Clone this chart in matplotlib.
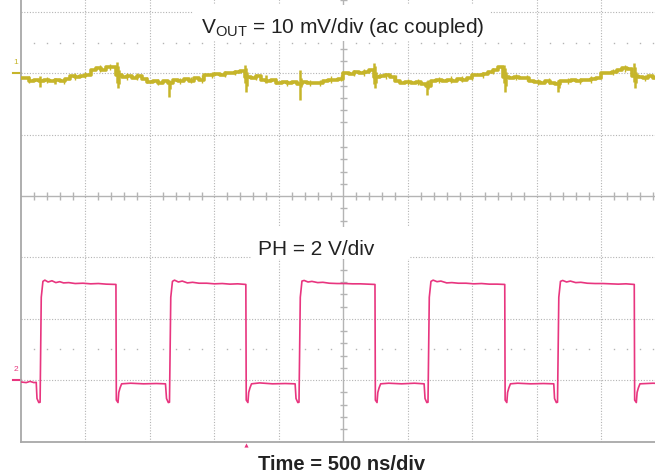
import numpy as np
import matplotlib.pyplot as plt
from matplotlib.patches import Rectangle

plt.rcParams['font.family'] = ['Liberation Sans', 'DejaVu Sans']
plt.rcParams['mathtext.fontset'] = 'custom'
plt.rcParams['mathtext.rm'] = 'Liberation Sans'

# scope settings
NS_PER_DIV = 500
VOUT_MV_PER_DIV = 10
PH_V_PER_DIV = 2
VOUT_POS = 2      # ch1 reference, divisions above centre
PH_POS = -3       # ch2 ground, divisions from centre

YELLOW = '#C6B52A'
PINK = '#E8357F'
GRID = '#B4B4B4'

# Vout, ac coupled [mV], one sample every 40 ns
vout_dt = 40
vout_mv = [-0.7, -0.8, -1.2, -1.1, -1.3, -1.0, -1.3, -1.1, -1.2, -0.9,
           -0.5, -0.6, -0.4, -0.3, 0.5, 0.8, 0.6, 1.1, 1.0, -0.2,
           -0.6, -0.4, -0.7, -0.5, -0.9, -1.4, -1.2, -1.5, -1.3, -1.6,
           -1.1, -1.3, -0.9, -1.2, -0.8, -1.0, -0.2, -0.3, -0.1, -0.3,
           0.1, 0.0, 0.2, 0.4, -0.6, -0.7, -0.5, -1.1, -1.2, -1.0,
           -1.5, -1.4, -1.6, -1.4, -1.7, -1.4, -1.6, -1.5, -1.5, -1.3,
           -1.0, -1.1, -0.9, 0.1, -0.1, 0.3, 0.0, 0.2, 0.5, -0.6,
           -0.4, -0.3, -0.6, -1.3, -1.5, -1.4, -1.6, -1.4, -1.7, -2.0,
           -1.3, -1.1, -1.2, -1.0, -1.2, -0.9, -1.0, -0.8, -0.2, -0.3,
           -0.1, 0.3, 0.5, 1.0, -0.6, -0.7, -0.6, -0.8, -0.7, -1.3,
           -1.4, -1.5, -1.3, -1.5, -1.8, -1.2, -1.3, -1.1, -1.2, -1.0,
           -1.1, -0.9, -0.8, 0.1, 0.0, 0.3, 0.6, 0.9, 0.7, -0.5,
           -0.6, -0.7, -0.5, -0.7, -0.6]

# glitches on Vout at the switching edges: time [ns], min / max [mV]
glitch_t = [147, 264, 744, 752, 760, 1150, 1158, 1736, 1744, 1752, 1900,
            2160, 2168, 2737, 2745, 2753, 3150, 3158, 3745, 3752, 3760,
            4160, 4168, 4752, 4760, 4768]
glitch_lo = [-2.2, -1.8, -1.5, -2.3, -1.8, -3.8, -2.6, -1.5, -3.0, -2.0, -1.6,
             -4.3, -2.2, -1.8, -2.3, -1.6, -3.5, -2.6, -1.6, -3.0, -2.0,
             -3.0, -2.4, -1.4, -2.3, -1.6]
glitch_hi = [-0.4, -0.7, 1.9, 1.2, 0.5, -1.0, -1.2, 1.4, 0.9, 0.2, -0.2,
             0.6, -0.8, 1.75, 1.2, 0.3, -1.2, -1.1, 1.4, 0.9, 0.2,
             -1.0, -1.1, 1.7, 1.0, 0.2]

# small noise hairs on Vout: time [ns], min / max [mV]
hair_t = [60, 200, 330, 420, 500, 610, 690, 820, 900, 980, 1060, 1230, 1320,
          1400, 1480, 1580, 1660, 1820, 1980, 2060, 2240, 2320, 2400, 2480,
          2580, 2660, 2830, 2910, 3000, 3080, 3240, 3330, 3420, 3500, 3580,
          3660, 3840, 3920, 4010, 4090, 4240, 4330, 4420, 4500, 4590, 4680,
          4840, 4920]
hair_lo = [-1.5, -1.6, -1.7, -1.0, -0.8, 0.3, 0.5, -1.0, -1.1, -1.6, -1.9,
           -1.8, -1.6, -1.5, -0.8, -0.6, -0.3, -1.1, -1.7, -2.0, -2.1, -2.0,
           -1.5, -1.3, -0.5, -0.4, -0.9, -1.3, -1.9, -1.9, -1.6, -1.5, -1.4,
           -1.0, -0.7, -0.1, -1.1, -1.3, -1.9, -1.8, -1.8, -1.7, -1.5, -0.9,
           -0.3, 0.3, -1.2, -1.2]
hair_hi = [-0.5, -0.6, -0.8, 0.0, 0.2, 1.3, 1.5, 0.1, 0.0, -0.6, -0.9,
           -0.7, -0.6, -0.3, 0.2, 0.4, 0.6, -0.1, -0.8, -1.0, -1.1, -1.0,
           -0.5, -0.3, 0.5, 0.7, 0.1, -0.3, -0.9, -0.9, -0.6, -0.5, -0.4,
           0.0, 0.3, 0.9, -0.1, -0.2, -0.9, -0.8, -0.8, -0.7, -0.5, 0.2,
           0.7, 1.3, -0.2, -0.2]

# PH node trace vertices: time [ns], volts
ph_t = [0, 40, 70, 100, 118, 124, 138, 148,
        157, 170, 185, 210, 240, 270, 300, 330, 370, 420, 480, 540, 600, 660, 736,
        739, 752, 758, 768, 780, 850, 950, 1050, 1120, 1128, 1142, 1151,
        1161, 1174, 1190, 1220, 1250, 1290, 1330, 1380, 1440, 1500, 1560, 1620, 1680, 1743,
        1746, 1759, 1765, 1775, 1787, 1850, 1950, 2050, 2125, 2132, 2146, 2155,
        2165, 2178, 2195, 2225, 2255, 2300, 2340, 2390, 2450, 2510, 2570, 2630, 2690, 2744,
        2747, 2760, 2766, 2776, 2788, 2850, 2950, 3050, 3125, 3132, 3146, 3155,
        3165, 3178, 3195, 3225, 3255, 3300, 3340, 3390, 3450, 3510, 3570, 3630, 3690, 3750,
        3753, 3766, 3772, 3782, 3794, 3850, 3950, 4050, 4130, 4136, 4150, 4159,
        4169, 4182, 4199, 4229, 4259, 4300, 4340, 4390, 4450, 4510, 4570, 4630, 4690, 4754,
        4757, 4770, 4776, 4786, 4798, 4900, 5000]
ph_v = [-0.06, -0.08, -0.04, -0.08, -0.07, -0.6, -0.73, -0.72,
        2.7, 3.22, 3.26, 3.2, 3.24, 3.18, 3.21, 3.17, 3.18, 3.15, 3.16, 3.14, 3.15, 3.13, 3.12,
        -0.65, -0.73, -0.4, -0.25, -0.12, -0.1, -0.12, -0.11, -0.12, -0.6, -0.73, -0.72,
        2.7, 3.22, 3.26, 3.2, 3.23, 3.17, 3.19, 3.16, 3.16, 3.14, 3.15, 3.13, 3.14, 3.12,
        -0.65, -0.73, -0.4, -0.25, -0.12, -0.09, -0.12, -0.11, -0.12, -0.6, -0.73, -0.72,
        2.7, 3.23, 3.25, 3.2, 3.22, 3.18, 3.19, 3.16, 3.15, 3.15, 3.14, 3.14, 3.13, 3.12,
        -0.65, -0.73, -0.4, -0.25, -0.12, -0.1, -0.12, -0.1, -0.12, -0.6, -0.73, -0.72,
        2.7, 3.22, 3.26, 3.21, 3.23, 3.17, 3.18, 3.16, 3.16, 3.14, 3.15, 3.13, 3.13, 3.12,
        -0.65, -0.73, -0.4, -0.25, -0.12, -0.1, -0.12, -0.11, -0.12, -0.6, -0.73, -0.72,
        2.7, 3.22, 3.25, 3.2, 3.23, 3.18, 3.19, 3.16, 3.15, 3.15, 3.14, 3.13, 3.14, 3.12,
        -0.65, -0.73, -0.4, -0.25, -0.12, -0.1, -0.12]

trig_t = 1744

fig = plt.figure(figsize=(6.55, 4.76), dpi=100)
# the scope screen is cropped at top and right, so the axes run past the figure
ax = fig.add_axes([21 / 655, 34.5 / 476, 645 / 655, 490.8 / 476])
ax.set_xlim(0, 10 * NS_PER_DIV)
ax.set_ylim(-4, 4)
ax.set_xticks([])
ax.set_yticks([])
for s in ['top', 'right']:
    ax.spines[s].set_visible(False)
for s in ['left', 'bottom']:
    ax.spines[s].set_color('#A8A8A8')
    ax.spines[s].set_linewidth(1.3)

# graticule
for k in range(1, 10):
    if k != 5:
        ax.axvline(k * NS_PER_DIV, color=GRID, lw=0.8, ls=(0, (1, 1.5)), zorder=1)
for k in range(-3, 4):
    if k != 0:
        ax.axhline(k, color=GRID, lw=0.8, ls=(0, (1, 1.5)), zorder=1)
ax.axvline(5 * NS_PER_DIV, color=GRID, lw=1.0, zorder=1)
ax.axhline(0, color=GRID, lw=1.0, zorder=1)
minor_x = np.array([k * 100 for k in range(1, 50) if k % 5])
minor_y = np.array([k * 0.2 for k in range(-19, 20) if k % 5])
ax.vlines(minor_x, -0.06, 0.06, color=GRID, lw=1.0, zorder=1)
ax.hlines(minor_y, 2500 - 30, 2500 + 30, color=GRID, lw=1.0, zorder=1)
for yy in [2.5, -2.5]:
    ax.plot(minor_x, np.full(len(minor_x), yy), ls='none', marker='s', ms=1.0,
            color=GRID, mec='none', zorder=1)

# white boxes behind the annotations
ax.add_patch(Rectangle((1333, 2.52), 2303, 0.6, fc='white', ec='none', zorder=2))
ax.add_patch(Rectangle((1791, -1.03), 1225, 0.52, fc='white', ec='none', zorder=2))

# traces
t_vout = np.arange(len(vout_mv)) * vout_dt
y_vout = VOUT_POS + np.array(vout_mv) / VOUT_MV_PER_DIV
ax.plot(t_vout, y_vout, color=YELLOW, lw=2.6, drawstyle='steps-mid', zorder=4)
ax.vlines(hair_t, VOUT_POS + np.array(hair_lo) / VOUT_MV_PER_DIV,
          VOUT_POS + np.array(hair_hi) / VOUT_MV_PER_DIV,
          color=YELLOW, lw=1.0, zorder=4)
ax.vlines(glitch_t, VOUT_POS + np.array(glitch_lo) / VOUT_MV_PER_DIV,
          VOUT_POS + np.array(glitch_hi) / VOUT_MV_PER_DIV,
          color=YELLOW, lw=1.8, zorder=4)
ax.plot(ph_t, PH_POS + np.array(ph_v) / PH_V_PER_DIV, color=PINK, lw=1.2, zorder=5)

# channel reference markers and trigger marker
ax.plot([-62, 0], [VOUT_POS, VOUT_POS], color=YELLOW, lw=1.5, clip_on=False)
ax.text(-40, VOUT_POS + 0.12, '1', color=YELLOW, fontsize=6, ha='center',
        va='bottom')
ax.plot([-62, 0], [PH_POS, PH_POS], color=PINK, lw=1.5, clip_on=False)
ax.text(-40, PH_POS + 0.12, '2', color=PINK, fontsize=6, ha='center',
        va='bottom')
ax.plot([trig_t], [-4.05], marker='^', ms=3, color=PINK, mec='none',
        clip_on=False)

ax.text(2492, 2.665, r'V$_{\mathregular{OUT}}$ = 10 mV/div (ac coupled)',
        fontsize=15, ha='center', va='baseline', color='#222222', zorder=3)
ax.text(2290, -0.953, 'PH = 2 V/div', fontsize=15, ha='center', va='baseline',
        color='#222222', zorder=3)
fig.text(342 / 655, 6 / 476, 'Time = 500 ns/div', fontsize=14.5,
         fontweight='bold', ha='center', va='baseline', color='#222222')

fig.savefig('out.png', dpi=100)
